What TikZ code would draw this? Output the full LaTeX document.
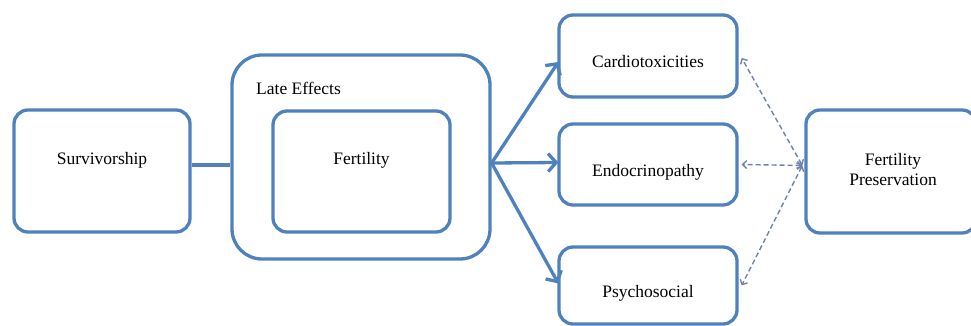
\documentclass[tikz,border=0pt]{standalone}
\usepackage{fontspec}
\setmainfont{Liberation Serif}
\usetikzlibrary{arrows.meta,calc}
\definecolor{boxblue}{RGB}{79,129,189}
\definecolor{dashblue}{RGB}{110,130,170}
\tikzset{
  rbox/.style={draw=boxblue, line width=3.3pt, rounded corners=14pt, fill=white, inner sep=0pt},
  lbl/.style={font=\fontsize{17.5}{20}\selectfont, align=center, inner sep=0pt},
  solidarrow/.style={draw=boxblue, line width=3.3pt, -{Straight Barb[length=8pt,width=18pt,line width=3.3pt]}},
  dasharrow/.style={draw=dashblue, line width=1.4pt, dashed, dash pattern=on 5pt off 3pt, {Straight Barb[length=4pt,width=8pt]}-{Straight Barb[length=4pt,width=8pt]}},
}
\begin{document}
\begin{tikzpicture}[x=1pt,y=-1pt]
\useasboundingbox (0,0) rectangle (971,326);
% boxes
\node[rbox, minimum width=176pt, minimum height=122pt] (surv) at (102,171) {};
\node[rbox, rounded corners=30pt, minimum width=258pt, minimum height=204pt] (late) at (361,157) {};
\node[rbox, minimum width=177pt, minimum height=121pt] (fert) at (361.5,171.5) {};
\node[rbox, minimum width=178pt, minimum height=82pt] (cardio) at (648,56) {};
\node[rbox, minimum width=178pt, minimum height=81pt] (endo) at (648,164.5) {};
\node[rbox, minimum width=178pt, minimum height=77pt] (psycho) at (648,285.5) {};
\node[rbox, minimum width=170pt, minimum height=123pt] (fp) at (891,171.5) {};
% labels
\node[lbl] (tsurv) at (102,160) {Survivorship};
\node[lbl, anchor=west] (tlate) at (256,88) {Late Effects};
\node[lbl] (tfert) at (361.5,160) {Fertility};
\node[lbl] (tcardio) at (648,62) {Cardiotoxicities};
\node[lbl] (tendo) at (648,172) {Endocrinopathy};
\node[lbl] (tpsycho) at (648,293) {Psychosocial};
\node[lbl] (tfp) at (893,170) {Fertility\\Preservation};
% connectors
\draw[draw=boxblue, line width=3.3pt] ([yshift=6pt]surv.east) -- ([yshift=-8pt]late.west);
\coordinate (fork) at ([yshift=-6pt]late.east);
\draw[solidarrow] (fork) -- ([xshift=1pt,yshift=-6pt]cardio.west);
\draw[solidarrow] (fork) -- ([xshift=1pt,yshift=2pt]endo.west);
\draw[solidarrow] (fork) -- ([xshift=1pt,yshift=2pt]psycho.west);
\coordinate (fpin) at ([xshift=-2pt,yshift=6pt]fp.west);
\draw[dasharrow] (fpin) -- ([xshift=3pt,yshift=-2pt]cardio.east);
\draw[dasharrow] (fpin) -- ([xshift=3pt]endo.east);
\draw[dasharrow] (fpin) -- ([xshift=3pt]psycho.east);
\end{tikzpicture}
\end{document}
